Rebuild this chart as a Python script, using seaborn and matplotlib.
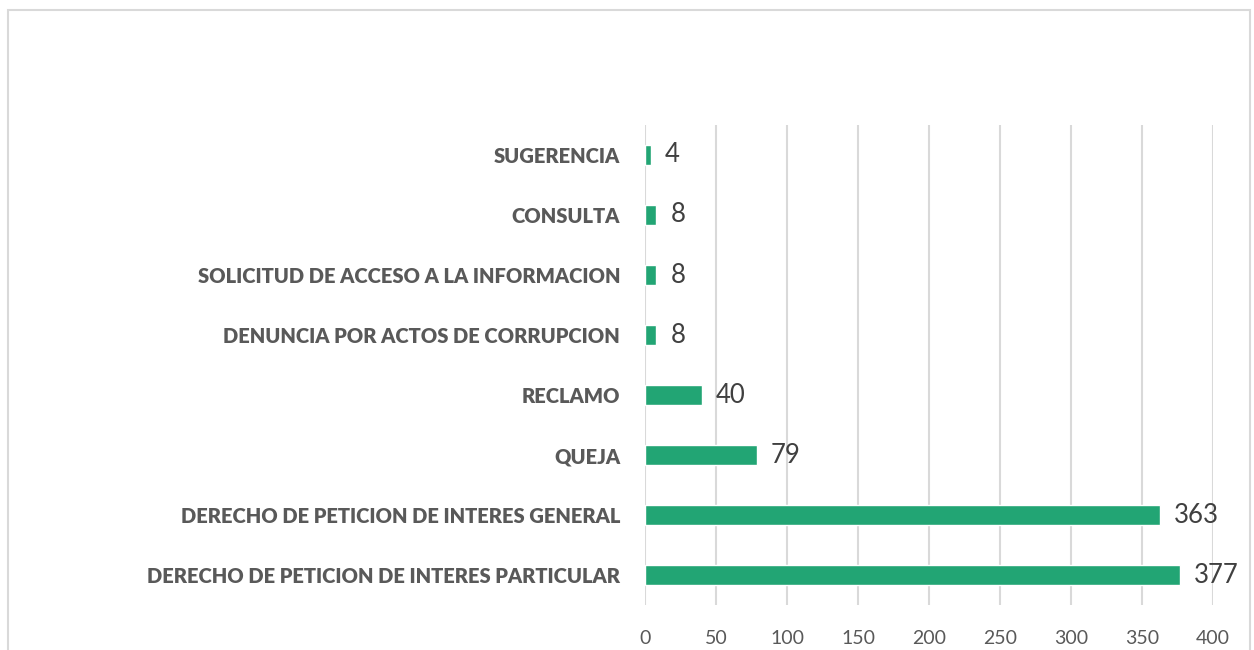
import pandas as pd
import seaborn as sns
import matplotlib.pyplot as plt
from matplotlib.patches import Rectangle

# Datos del grafico
categorias = [
    "SUGERENCIA",
    "CONSULTA",
    "SOLICITUD DE ACCESO A LA INFORMACION",
    "DENUNCIA POR ACTOS DE CORRUPCION",
    "RECLAMO",
    "QUEJA",
    "DERECHO DE PETICION DE INTERES GENERAL",
    "DERECHO DE PETICION DE INTERES PARTICULAR",
]
cantidades = [4, 8, 8, 8, 40, 79, 363, 377]
ticks_x = [0, 50, 100, 150, 200, 250, 300, 350, 400]

df = pd.DataFrame({"tipo": categorias, "cantidad": cantidades})

sns.set_style("white")
plt.rcParams["font.family"] = ["Lato", "DejaVu Sans"]

fig = plt.figure(figsize=(12.54, 6.5), dpi=100)
ax = fig.add_axes([0.5144, 0.0692, 0.4529, 0.7385])

sns.barplot(data=df, x="cantidad", y="tipo", order=categorias, color="#22A574",
            saturation=1, width=0.33, ax=ax)

ax.set_xlim(0, 400)
ax.set_ylim(7.5, -0.5)
ax.set_xticks(ticks_x)
ax.xaxis.grid(True, color="#d9d9d9", linewidth=1.5)
ax.set_axisbelow(True)
for s in ax.spines.values():
    s.set_visible(False)
ax.tick_params(axis="both", length=0)
ax.tick_params(axis="x", pad=18, labelsize=14, labelcolor="#595959")
ax.tick_params(axis="y", pad=18, labelsize=14.5, labelcolor="#595959")
for lbl in ax.get_yticklabels():
    lbl.set_fontweight("heavy")
ax.set_xlabel("")
ax.set_ylabel("")

for container in ax.containers:
    ax.bar_label(container, fmt="%.0f", padding=10, fontsize=18.5, color="#404040")

# marco del grafico
fig.patches.append(Rectangle((0.0064, -0.02), 0.9906, 1.005, transform=fig.transFigure,
                             fill=False, edgecolor="#d9d9d9", linewidth=1.5))

plt.savefig("out.png", dpi=100)
plt.close()
